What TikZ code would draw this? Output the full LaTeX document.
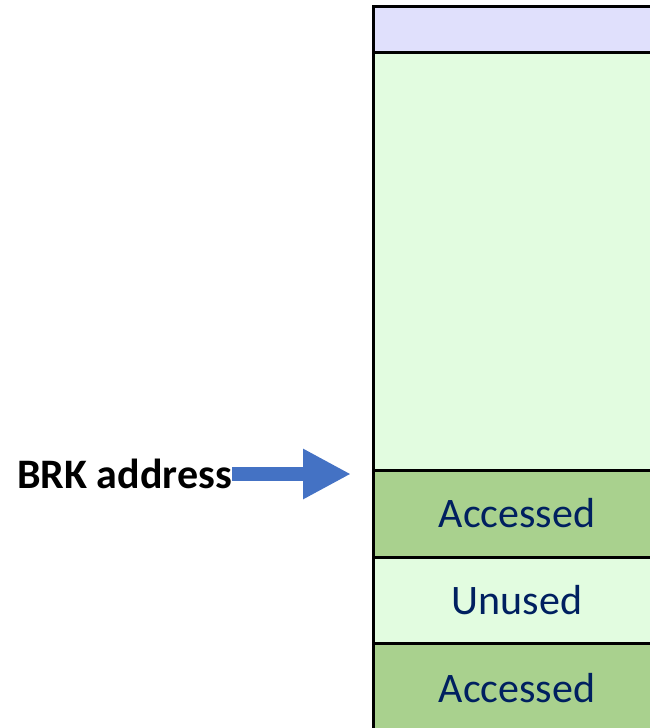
\documentclass[tikz,border=0pt]{standalone}
\usepackage{fontspec}
\setmainfont{Carlito}
\usetikzlibrary{arrows.meta}
\definecolor{lavender}{HTML}{E0E0FC}
\definecolor{lightgreen}{HTML}{E2FCE0}
\definecolor{accgreen}{HTML}{A9D18E}
\definecolor{navy}{HTML}{002060}
\definecolor{arrowblue}{HTML}{4472C4}
\newcommand{\segtext}[1]{\raisebox{-3pt}{#1}}
\tikzset{
  seg/.style={draw=black, line width=3pt, minimum width=288pt, inner sep=0pt, outer sep=0pt,
    font=\fontsize{42}{50}\selectfont, text=navy, anchor=north},
  label/.style={font=\bfseries\fontsize{42}{50}\selectfont, inner sep=0pt, anchor=east}
}
\begin{document}
\begin{tikzpicture}[x=1pt,y=-1pt]
\useasboundingbox (0,0) rectangle (650,728);
\clip (0,0) rectangle (650,728);
\node[seg, fill=lavender, minimum height=46pt] (top) at (517,6) {};
\node[seg, fill=lightgreen, minimum height=418pt] (free) at (517,52) {};
\node[seg, fill=accgreen, minimum height=87pt] (acc1) at (517,470) {\segtext{Accessed}};
\node[seg, fill=lightgreen, minimum height=86pt] (unused) at (517,557) {\segtext{Unused}};
\node[seg, fill=accgreen, minimum height=90pt] (acc2) at (517,643) {\segtext{Accessed}};
\node[label] (brk) at (232,474) {BRK address};
\coordinate (tip) at (351,474);
\draw[arrowblue, line width=14pt, -{Triangle[length=48pt,width=47pt]}] (brk.east) -- (tip);
\end{tikzpicture}
\end{document}
